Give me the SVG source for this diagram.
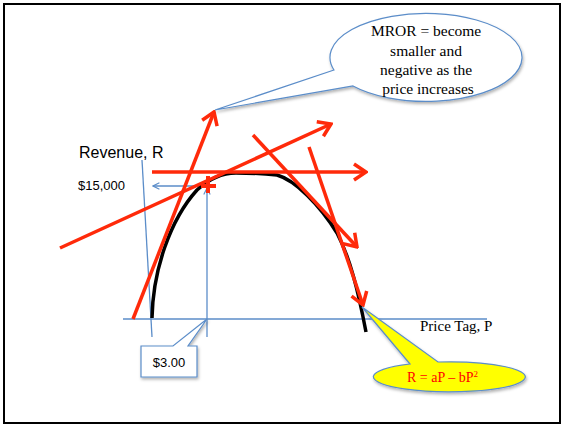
<svg xmlns="http://www.w3.org/2000/svg" width="563" height="426" viewBox="0 0 563 426">
  <style>
    .blue { stroke: #5B8DC9; stroke-width: 1.3; fill: none; }
    .red { stroke: #FF2A0A; stroke-width: 3.5; fill: none; stroke-linecap: butt; }
    .times { font-family: "Liberation Serif", "Times New Roman", serif; }
    .sans { font-family: "Liberation Sans", Arial, sans-serif; }
  </style>
  <defs>
    <marker id="redHead" viewBox="0 0 16 20" refX="14" refY="10" markerWidth="16" markerHeight="20" markerUnits="userSpaceOnUse" orient="auto">
      <path d="M2,2 L14,10 L2,18" fill="none" stroke="#FF2A0A" stroke-width="3.5" stroke-linejoin="miter"/>
    </marker>
    <marker id="blueHead" viewBox="0 0 10 10" refX="9" refY="5" markerWidth="8" markerHeight="8" markerUnits="userSpaceOnUse" orient="auto">
      <path d="M1,1 L9,5 L1,9" fill="none" stroke="#5B8DC9" stroke-width="1.4"/>
    </marker>
    <filter id="shadow" x="-20%" y="-20%" width="140%" height="160%">
      <feDropShadow dx="1" dy="2" stdDeviation="1.5" flood-color="#000" flood-opacity="0.3"/>
    </filter>
  </defs>

  <rect x="0" y="0" width="563" height="426" fill="#ffffff"/>
  <rect id="frame" x="4" y="4" width="556" height="419" fill="none" stroke="#000" stroke-width="2"/>

  <g id="axes">
    <line class="blue" x1="142" y1="160" x2="152" y2="337"/>
    <line class="blue" x1="123" y1="319" x2="487" y2="319"/>
    <line class="blue" x1="207" y1="337" x2="207" y2="188" marker-end="url(#blueHead)"/>
    <line class="blue" x1="207" y1="186" x2="153" y2="186" marker-end="url(#blueHead)"/>
  </g>

  <g id="revenue-curve">
    <path d="M152,318 C153,270 170,220 197,190 C210,178 222,173 236,173 C255,173 268,174 277,175 C295,180 320,205 337,233 C350,258 358,290 366,332" fill="none" stroke="#000" stroke-width="3.5"/>
  </g>

  <g id="connectors">
    <line class="red" x1="133" y1="319" x2="214" y2="112" marker-end="url(#redHead)"/>
    <line class="red" x1="60" y1="248" x2="331" y2="124" marker-end="url(#redHead)"/>
    <line class="red" x1="152" y1="172" x2="366" y2="172" marker-end="url(#redHead)"/>
    <line class="red" x1="253" y1="135" x2="357" y2="247" marker-end="url(#redHead)"/>
    <line class="red" x1="309" y1="147" x2="363" y2="305" marker-end="url(#redHead)"/>
  </g>

  <g id="point-marker">
    <line x1="201" y1="186" x2="216" y2="186" stroke="#FF2A0A" stroke-width="4"/>
    <line x1="208" y1="176" x2="208" y2="193" stroke="#FF2A0A" stroke-width="4"/>
  </g>

  <g id="label-revenue">
    <text class="sans" x="79" y="158" font-size="16" fill="#000">Revenue, R</text>
  </g>
  <g id="label-15000">
    <text class="sans" x="78" y="190" font-size="13" fill="#000">$15,000</text>
  </g>
  <g id="label-price">
    <text class="times" x="420" y="331" font-size="15" fill="#000">Price Tag, P</text>
  </g>

  <g id="callout-mror">
    <path d="M353,86 A96,44 0 1,0 334,70 L215,110 Z" fill="#ffffff" stroke="#5B8DC9" stroke-width="1.2" filter="url(#shadow)"/>
    <text class="times" font-size="15.5" fill="#000" text-anchor="middle">
      <tspan x="428" y="36">MROR = become</tspan>
      <tspan x="428" y="56">smaller and</tspan>
      <tspan x="428" y="75">negative as the</tspan>
      <tspan x="428" y="94">price increases</tspan>
    </text>
  </g>

  <g id="callout-price">
    <path d="M141,346 L173,346 L207,319 L188,346 L197,346 L197,377 L141,377 Z" fill="#ffffff" stroke="#5B8DC9" stroke-width="1.2" filter="url(#shadow)"/>
    <text class="sans" x="169" y="367" font-size="13" fill="#000" text-anchor="middle">$3.00</text>
  </g>

  <g id="callout-equation">
    <path d="M410,364 L362,307 L438,362 A76,15 0 1,1 410,364 Z" fill="#FFFF00" stroke="#5B8DC9" stroke-width="1.2" filter="url(#shadow)"/>
    <text class="times" x="407" y="382" font-size="14" fill="#FF0000">R = aP – bP<tspan font-size="9" dy="-5">2</tspan></text>
  </g>
</svg>
